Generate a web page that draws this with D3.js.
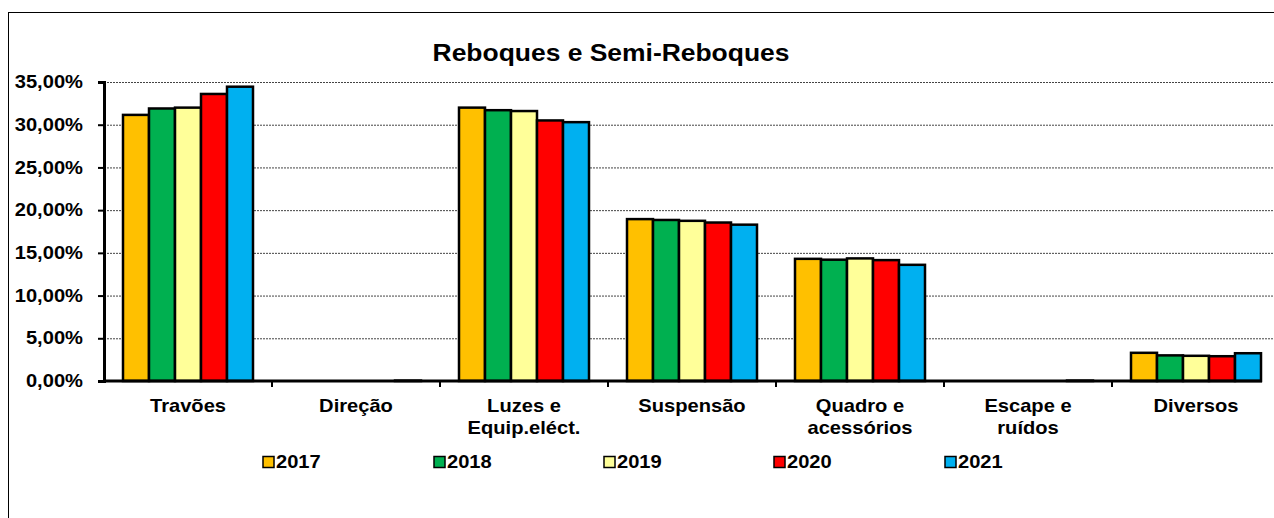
<!DOCTYPE html>
<html>
<head>
<meta charset="utf-8">
<script src="https://cdn.jsdelivr.net/npm/d3@7"></script>
<style>
  html, body { margin: 0; padding: 0; background: #fff; }
  svg { display: block; font-family: Arial, "Liberation Sans", sans-serif; }
</style>
</head>
<body>
<svg id="chart" width="1274" height="518"></svg>
<script>
// Categories and yearly shares (%) for trailer/semi-trailer defects
const categories = ["Travões", "Direção", "Luzes e\nEquip.eléct.", "Suspensão", "Quadro e\nacessórios", "Escape e\nruídos", "Diversos"];
const years = ["2017", "2018", "2019", "2020", "2021"];
const colors = ["#FFC000", "#00B050", "#FFFF99", "#FF0000", "#00B0F0"];

const v2017 = [31.15, 0, 32.0, 18.95, 14.3, 0, 3.3];
const v2018 = [31.9, 0, 31.7, 18.85, 14.2, 0, 3.0];
const v2019 = [32.0, 0, 31.6, 18.75, 14.35, 0, 2.95];
const v2020 = [33.6, 0, 30.5, 18.55, 14.15, 0, 2.9];
const v2021 = [34.45, 0.05, 30.3, 18.3, 13.6, 0.05, 3.25];
const series = [v2017, v2018, v2019, v2020, v2021];

const yTicks = [0, 5, 10, 15, 20, 25, 30, 35];

(function draw() {
  const svg = d3.select("#chart");
  const W = 1274, H = 518;
  const plotL = 104, plotR = 1280, plotT = 82, plotB = 381;
  const FS = 17.5;        // label font size
  const SX = 1.15;        // horizontal widening of the lettering

  // Outer chart frame
  svg.append("rect")
    .attr("x", 8.5).attr("y", 12.5)
    .attr("width", W + 10).attr("height", H + 10)
    .attr("fill", "none").attr("stroke", "#000").attr("stroke-width", 1);

  // Title
  svg.append("text")
    .attr("transform", `translate(611,61) scale(${SX},1)`)
    .attr("text-anchor", "middle")
    .attr("font-size", 23).attr("font-weight", "bold")
    .text("Reboques e Semi-Reboques");

  const x0 = d3.scaleBand().domain(d3.range(categories.length)).range([plotL, plotR]).padding(0);
  const x1 = d3.scaleBand().domain(d3.range(years.length))
    .range([(x0.bandwidth() - 130) / 2, (x0.bandwidth() + 130) / 2]).padding(0);
  const y = d3.scaleLinear().domain([0, 35]).range([plotB, plotT]);

  // Gridlines
  svg.append("g").selectAll("line")
    .data(yTicks.filter(d => d > 0))
    .join("line")
    .attr("x1", plotL).attr("x2", W)
    .attr("y1", d => y(d) + 0.5).attr("y2", d => y(d) + 0.5)
    .attr("stroke", "#444").attr("stroke-width", 1)
    .attr("stroke-dasharray", "2,1");

  // Bars
  const groups = svg.append("g").selectAll("g")
    .data(categories.map((c, i) => i))
    .join("g")
    .attr("transform", i => `translate(${x0(i)},0)`);

  groups.selectAll("rect")
    .data(i => series.map((s, k) => ({ k, v: s[i] })).filter(d => d.v > 0))
    .join("rect")
    .attr("x", d => x1(d.k))
    .attr("width", x1.bandwidth())
    .attr("y", d => y(d.v))
    .attr("height", d => Math.max(0, plotB - y(d.v)))
    .attr("fill", d => colors[d.k])
    .attr("stroke", "#000")
    .attr("stroke-width", 2.5);

  // Y axis
  const yAxis = d3.axisLeft(y)
    .tickValues(yTicks)
    .tickSize(6)
    .tickPadding(12.3)
    .tickFormat(d => d3.format(".2f")(d).replace(".", ",") + "%");
  const yg = svg.append("g").attr("transform", `translate(${plotL},0)`).call(yAxis);
  yg.select(".domain").attr("stroke-width", 3);
  yg.selectAll(".tick line").attr("stroke-width", 2);
  yg.selectAll(".tick text")
    .attr("font-size", FS).attr("font-weight", "bold")
    .attr("font-family", "Arial, 'Liberation Sans', sans-serif")
    .attr("fill", "#000")
    .attr("transform", `scale(${SX},1)`);

  // X axis line and category boundary ticks
  svg.append("line")
    .attr("x1", plotL).attr("x2", 1262)
    .attr("y1", plotB).attr("y2", plotB)
    .attr("stroke", "#000").attr("stroke-width", 3);
  svg.append("g").selectAll("line")
    .data(d3.range(1, categories.length))
    .join("line")
    .attr("x1", i => x0(i)).attr("x2", i => x0(i))
    .attr("y1", plotB).attr("y2", plotB + 6)
    .attr("stroke", "#000").attr("stroke-width", 2);

  // Category labels
  const labels = svg.append("g").selectAll("text")
    .data(categories.map((c, i) => ({ c, i })))
    .join("text")
    .attr("text-anchor", "middle")
    .attr("font-size", FS).attr("font-weight", "bold")
    .attr("transform", d => `translate(${x0(d.i) + x0.bandwidth() / 2},412) scale(${SX},1)`);
  labels.selectAll("tspan")
    .data(d => d.c.split("\n"))
    .join("tspan")
    .attr("x", 0)
    .attr("dy", (d, j) => j === 0 ? 0 : 22)
    .text(d => d);

  // Legend
  const legendX = [263, 434, 604, 774, 945];
  const lg = svg.append("g").selectAll("g")
    .data(years.map((yr, k) => ({ yr, k })))
    .join("g")
    .attr("transform", d => `translate(${legendX[d.k]},462)`);
  lg.append("rect")
    .attr("x", 0).attr("y", -5.5).attr("width", 11).attr("height", 11)
    .attr("fill", d => colors[d.k]).attr("stroke", "#000").attr("stroke-width", 1.5);
  lg.append("text")
    .attr("transform", `translate(13,0) scale(${SX},1)`)
    .attr("dy", "0.36em")
    .attr("font-size", FS).attr("font-weight", "bold")
    .text(d => d.yr);
})();
</script>
</body>
</html>
